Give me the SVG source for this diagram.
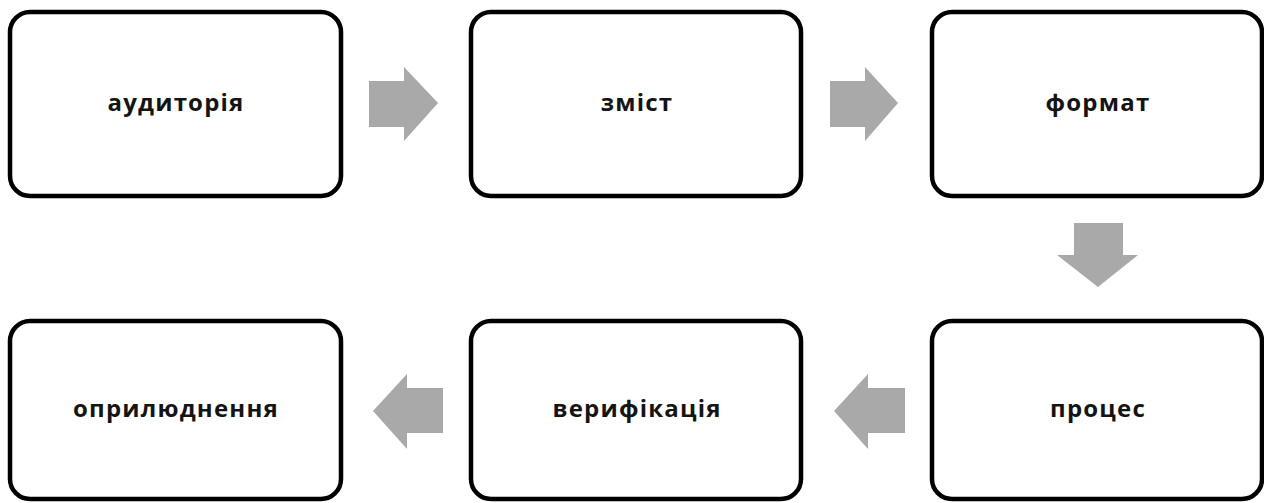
<svg xmlns="http://www.w3.org/2000/svg" width="1264" height="503" viewBox="0 0 1264 503">
  <style>
    .box { fill: #ffffff; stroke: #000000; stroke-width: 4.5; }
    .lbl { font-family: "Open Sans", "Noto Sans", "DejaVu Sans", sans-serif; font-weight: bold; font-size: 24px; letter-spacing: 1.2px; fill: #141414; text-anchor: middle; }
    .arr { fill: #a9a9a9; }
  </style>
  <rect width="1264" height="503" fill="#ffffff"/>

  <!-- top row -->
  <g id="node-audytoriia">
    <rect class="box" x="10" y="12" width="331" height="184" rx="20"/>
    <text class="lbl" x="176" y="111">аудиторія</text>
  </g>
  <g id="node-zmist">
    <rect class="box" x="471" y="12" width="330" height="184" rx="20"/>
    <text class="lbl" x="637" y="111">зміст</text>
  </g>
  <g id="node-format">
    <rect class="box" x="932" y="12" width="330" height="184" rx="20"/>
    <text class="lbl" x="1098" y="111">формат</text>
  </g>

  <!-- bottom row -->
  <g id="node-protses">
    <rect class="box" x="932" y="321" width="330" height="178" rx="20"/>
    <text class="lbl" x="1098" y="417">процес</text>
  </g>
  <g id="node-veryfikatsiia">
    <rect class="box" x="471" y="321" width="330" height="178" rx="20"/>
    <text class="lbl" x="637" y="417">верифікація</text>
  </g>
  <g id="node-opryliudnennia">
    <rect class="box" x="10" y="321" width="331" height="178" rx="20"/>
    <text class="lbl" x="176" y="417">оприлюднення</text>
  </g>

  <!-- block arrows between steps -->
  <g id="connectors">
    <polygon class="arr" points="369,81 404,81 404,67 438,103 404,141 404,127 369,127"/>
    <polygon class="arr" points="830,81 865,81 865,67 898,103 865,141 865,127 830,127"/>
    <polygon class="arr" points="1074,223 1123,223 1123,255 1138,255 1098,287 1057,255 1074,255"/>
    <polygon class="arr" points="905,388 868,388 868,374 834,411 868,449 868,433 905,433"/>
    <polygon class="arr" points="443,388 407,388 407,374 373,411 407,449 407,433 443,433"/>
  </g>
</svg>
